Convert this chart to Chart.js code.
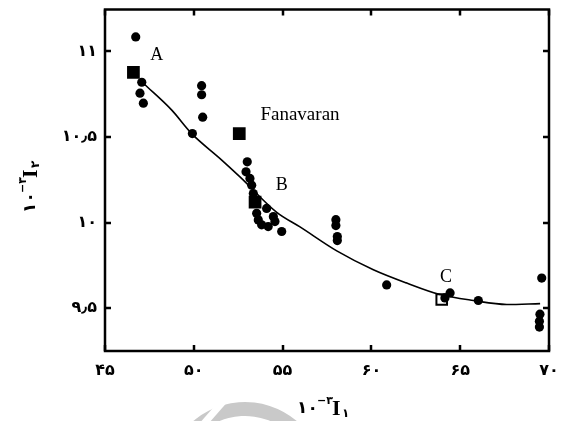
<!DOCTYPE html>
<html>
<head>
<meta charset="utf-8">
<script src="https://cdn.jsdelivr.net/npm/chart.js@4.4.1/dist/chart.umd.min.js"></script>
<style>
html,body{margin:0;padding:0;background:#fff;}
#wrap{width:562px;height:421px;}
</style>
</head>
<body>
<div id="wrap"><canvas id="c" width="562" height="421"></canvas></div>
<script>
// ---- data ----
const xTicks = [45, 50, 55, 60, 65, 70];
const xTickLabels = ['۴۵', '۵۰', '۵۵', '۶۰', '۶۵', '۷۰'];
const yTicks = [9.5, 10, 10.5, 11];
const yTickLabels = ['۹٫۵', '۱۰', '۱۰٫۵', '۱۱'];

const circleX = [46.73, 47.07, 46.97, 47.16, 50.44, 50.44, 50.5, 49.92,
  53.01, 52.94, 53.16, 53.26, 53.35, 53.54, 53.63, 53.82, 54.10, 54.19, 54.48, 54.57, 54.95,
  58.0, 58.0, 58.08, 58.08, 60.86, 64.14, 64.43, 66.02, 69.59, 69.49, 69.46, 69.46];
const circleY = [11.085, 10.82, 10.756, 10.698, 10.80, 10.747, 10.616, 10.52,
  10.355, 10.297, 10.258, 10.219, 10.170, 10.054, 10.016, 9.987, 10.083, 9.977, 10.035, 10.006, 9.948,
  10.017, 9.983, 9.919, 9.895, 9.636, 9.56, 9.589, 9.545, 9.676, 9.465, 9.424, 9.39];

const squareX = [46.6, 52.56, 53.45];
const squareY = [10.878, 10.52, 10.12];
const hollowX = [63.96];
const hollowY = [9.551];

const curveX = [47.2, 48.76, 49.88, 51.48, 52.6, 54.67, 55.98, 58.05, 60.11, 61.99, 63.86, 65.74, 67.62, 69.5];
const curveY = [10.81, 10.657, 10.52, 10.374, 10.267, 10.06, 9.975, 9.835, 9.725, 9.647, 9.58, 9.545, 9.522, 9.527];

const labelText = ['A', 'Fanavaran', 'B', 'C'];
const labelX = [47.91, 55.98, 54.95, 64.2];
const labelY = [10.975, 10.628, 10.219, 9.68];

const zip = (xs, ys) => xs.map((x, i) => ({x: x, y: ys[i]}));

const digitFont = '"DejaVu Sans", sans-serif';

const decor = {
  id: 'decor',
  beforeDraw(chart) {
    const ctx = chart.ctx;
    ctx.save();
    // faint watermark arc at the bottom
    ctx.fillStyle = '#c9c9c9';
    ctx.beginPath();
    ctx.arc(245, 482, 80, Math.PI * 1.1, Math.PI * 1.92, false);
    ctx.arc(245, 482, 66, Math.PI * 1.92, Math.PI * 1.1, true);
    ctx.closePath();
    ctx.fill();
    ctx.strokeStyle = '#fff';
    ctx.lineWidth = 7;
    ctx.beginPath();
    ctx.moveTo(200, 428);
    ctx.lineTo(228, 396);
    ctx.stroke();
    ctx.restore();
  },
  afterDraw(chart) {
    const ctx = chart.ctx;
    const a = chart.chartArea;
    const xs = chart.scales.x, ys = chart.scales.y;
    ctx.save();
    ctx.strokeStyle = '#000';
    ctx.lineWidth = 2.5;
    ctx.strokeRect(a.left, a.top, a.right - a.left, a.bottom - a.top);
    const tl = 6;
    xTicks.forEach(v => {
      const px = Math.round(xs.getPixelForValue(v));
      ctx.beginPath();
      ctx.moveTo(px, a.bottom); ctx.lineTo(px, a.bottom - tl);
      ctx.moveTo(px, a.top); ctx.lineTo(px, a.top + tl);
      ctx.stroke();
    });
    yTicks.forEach(v => {
      const py = Math.round(ys.getPixelForValue(v));
      ctx.beginPath();
      ctx.moveTo(a.left, py); ctx.lineTo(a.left + tl, py);
      ctx.moveTo(a.right, py); ctx.lineTo(a.right - tl, py);
      ctx.stroke();
    });
    // tick labels
    ctx.fillStyle = '#000';
    ctx.font = 'bold 16px ' + digitFont;
    ctx.textBaseline = 'middle';
    ctx.textAlign = 'center';
    xTicks.forEach((v, i) => {
      ctx.fillText(xTickLabels[i], xs.getPixelForValue(v), a.bottom + 20);
    });
    ctx.textAlign = 'right';
    yTicks.forEach((v, i) => {
      ctx.fillText(yTickLabels[i], a.left - 8, ys.getPixelForValue(v));
    });
    // annotations
    ctx.textAlign = 'center';
    ctx.textBaseline = 'middle';
    labelText.forEach((t, i) => {
      ctx.font = (t.length > 1 ? '19px' : '18px') + ' "Liberation Serif", "Times New Roman", serif';
      ctx.fillText(t, xs.getPixelForValue(labelX[i]), ys.getPixelForValue(labelY[i]));
    });
    // axis titles
    function title(sub) {
      ctx.textAlign = 'left';
      ctx.textBaseline = 'alphabetic';
      ctx.font = 'bold 17px ' + digitFont;
      ctx.fillText('۱۰', 0, 0);
      ctx.font = 'bold 11px ' + digitFont;
      ctx.fillText('−۳', 20, -9);
      ctx.font = 'bold 22px "Liberation Serif", serif';
      ctx.fillText('I', 35, 2);
      ctx.font = 'bold 12px ' + digitFont;
      ctx.fillText(sub, 45, 4);
    }
    ctx.save();
    ctx.translate(297, 413);
    title('۱');
    ctx.restore();
    ctx.save();
    ctx.translate(35, 213);
    ctx.rotate(-Math.PI / 2);
    title('۲');
    ctx.restore();
    ctx.restore();
  }
};

new Chart(document.getElementById('c'), {
  type: 'scatter',
  data: {
    datasets: [
      {
        type: 'line',
        data: zip(curveX, curveY),
        borderColor: '#000',
        borderWidth: 1.6,
        pointRadius: 0,
        fill: false,
        cubicInterpolationMode: 'monotone',
        order: 3
      },
      {
        data: zip(circleX, circleY),
        pointStyle: 'circle',
        pointRadius: 4.6,
        backgroundColor: '#000',
        borderColor: '#000',
        borderWidth: 0,
        order: 1
      },
      {
        data: zip(squareX, squareY),
        pointStyle: 'rect',
        pointRadius: 9,
        backgroundColor: '#000',
        borderColor: '#000',
        borderWidth: 0,
        order: 2
      },
      {
        data: zip(hollowX, hollowY),
        pointStyle: 'rect',
        pointRadius: 7.5,
        backgroundColor: 'rgba(0,0,0,0)',
        borderColor: '#000',
        borderWidth: 2,
        order: 2
      }
    ]
  },
  options: {
    responsive: false,
    animation: false,
    events: [],
    layout: {padding: {top: 7, right: 13, left: 0, bottom: 0}},
    plugins: {legend: {display: false}, tooltip: {enabled: false}},
    scales: {
      x: {
        type: 'linear',
        min: 45, max: 70,
        afterBuildTicks: s => { s.ticks = xTicks.map(v => ({value: v})); },
        afterFit: s => { s.height = 70; },
        grid: {display: false, drawTicks: false},
        border: {display: false},
        ticks: {display: false}
      },
      y: {
        type: 'linear',
        min: 9.25, max: 11.245,
        afterBuildTicks: s => { s.ticks = yTicks.map(v => ({value: v})); },
        afterFit: s => { s.width = 105; },
        grid: {display: false, drawTicks: false},
        border: {display: false},
        ticks: {display: false}
      }
    }
  },
  plugins: [decor]
});
</script>
</body>
</html>
